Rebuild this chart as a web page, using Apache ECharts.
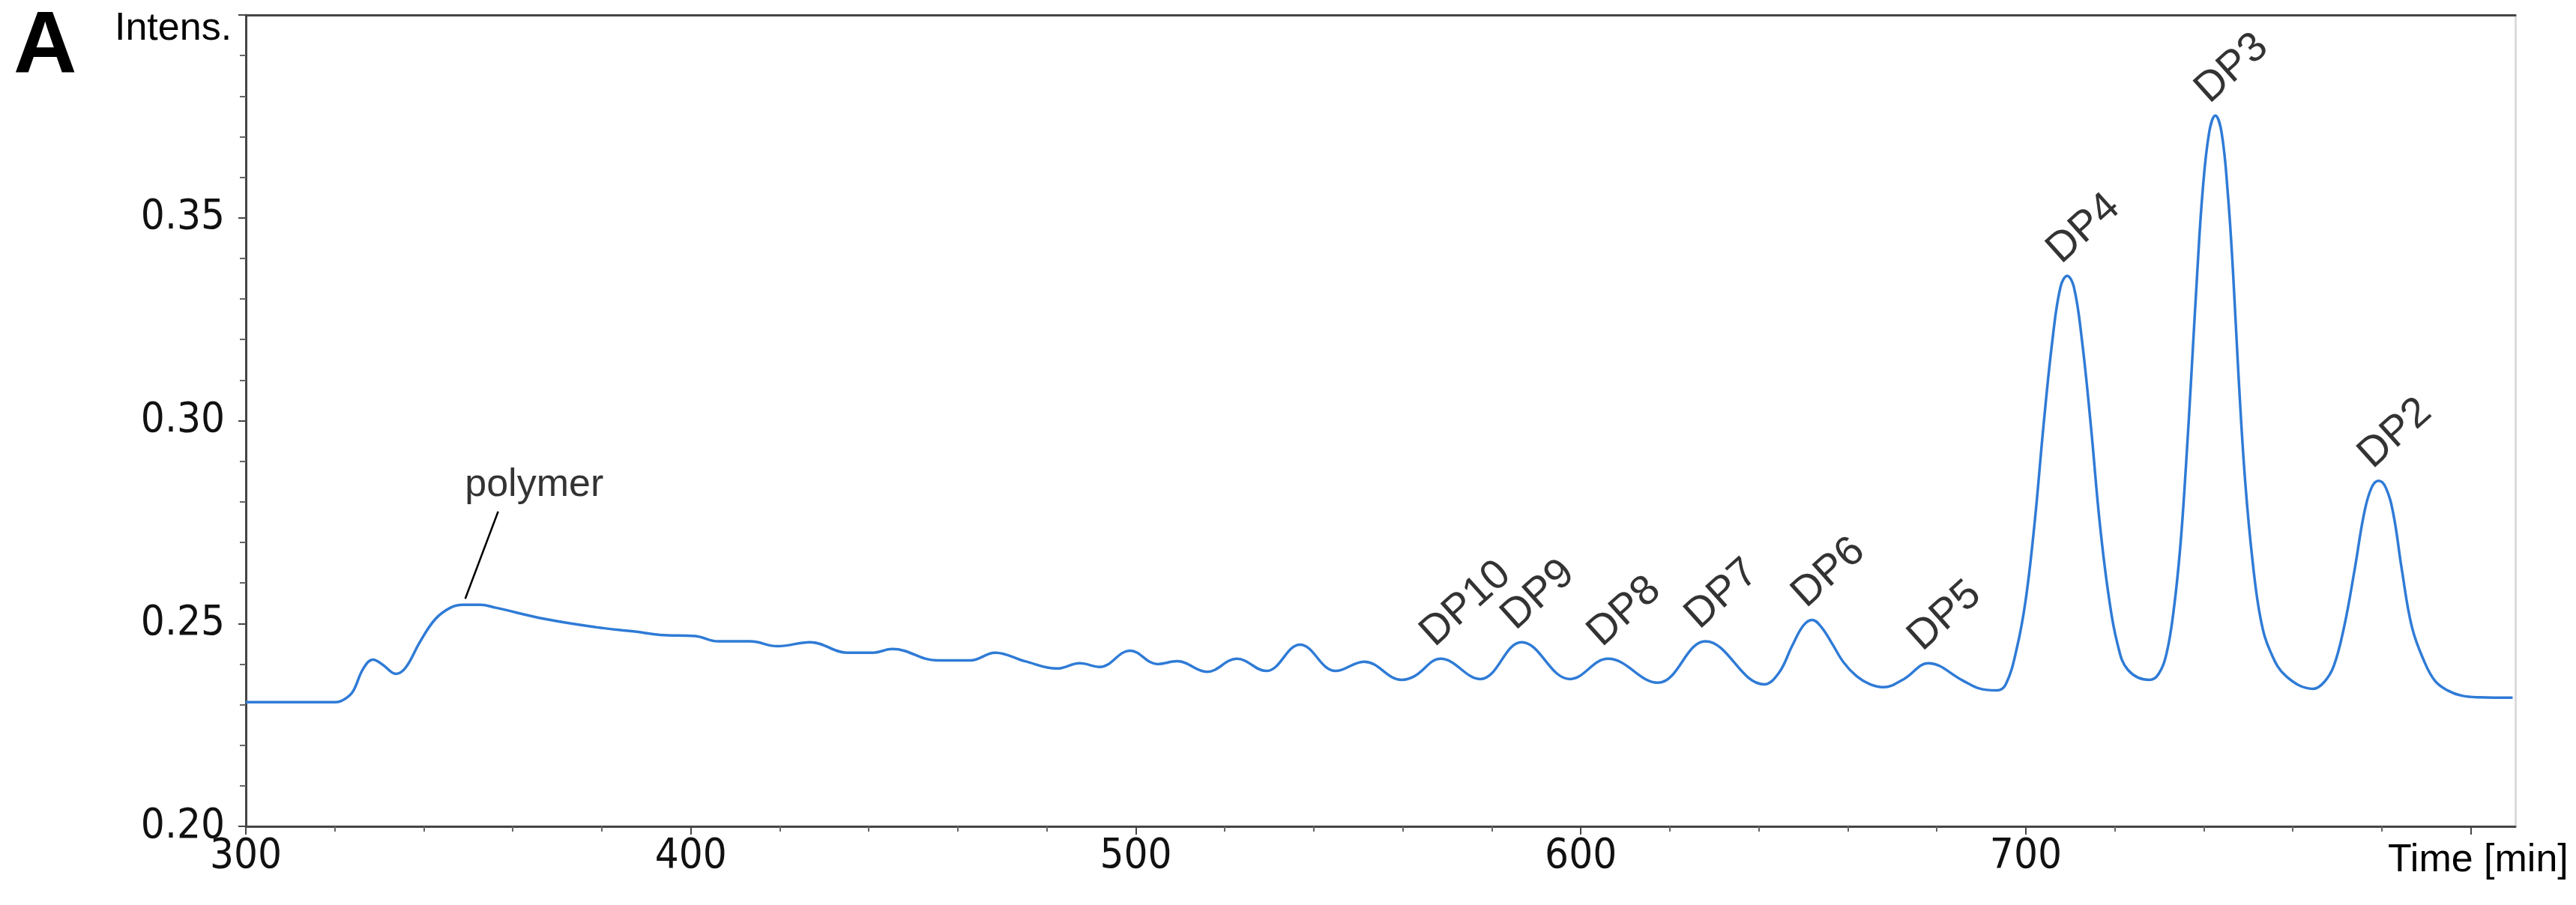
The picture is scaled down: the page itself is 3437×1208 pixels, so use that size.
<!DOCTYPE html>
<html><head><meta charset="utf-8">
<script src="https://cdn.jsdelivr.net/npm/echarts@6/dist/echarts.min.js"></script>
<style>html,body{margin:0;padding:0;background:#fff}#c{width:3437px;height:1208px}</style>
</head><body><div id="c"></div><script>
// Chromatogram trace (time in min, intensity)
const timeMin = [300.0,320.2,322.4,324.1,326.4,328.6,330.8,333.7,335.9,339.2,342.6,346.0,348.8,352.7,356.1,367.3,378.6,387.5,
393.1,401.0,406.1,413.3,419.5,426.8,435.2,440.9,445.3,455.4,462.8,468.4,475.1,482.3,487.4,491.9,498.7,504.9,509.3,516.0,522.7,529.3,536.9,544.9,551.3,559.8,562.6,
568.5,577.4,586.7,597.6,606.1,617.3,628.0,641.2,644.5,647.5,650.0,652.0,654.0,656.5,659.0,662.0,665.0,668.0,672.6,678.1,685.9,689.5,693.4,
695.5,698.0,700.0,702.0,704.0,706.0,707.8,709.3,710.8,712.6,714.6,716.6,718.6,720.6,723.0,727.8,
729.8,731.6,733.2,734.7,736.0,737.2,738.5,739.7,741.2,742.6,744.0,745.4,746.6,747.8,749.3,751.0,752.8,755.0,758.5,764.6,
767.0,769.2,771.5,773.9,776.0,777.7,779.3,780.9,782.6,784.5,786.8,789.6,792.0,794.8,798.0,801.9,809.4];
const intensity = [0.2306,0.2306,0.2315,0.2333,0.2389,0.2411,0.2398,0.2376,0.2391,0.2456,0.2511,0.2539,0.2546,0.2546,0.2539,0.2511,0.2491,0.2480,
0.2472,0.2469,0.2456,0.2456,0.2444,0.2454,0.2428,0.2428,0.2437,0.2409,0.2409,0.2428,0.2407,0.2389,0.2402,0.2393,0.2433,0.2400,0.2407,0.2381,0.2413,0.2383,0.2448,0.2383,0.2406,0.2361,0.2370,
0.2413,0.2363,0.2454,0.2363,0.2413,0.2354,0.2456,0.2350,0.2378,0.2445,0.2495,0.2509,0.2492,0.2450,0.2405,0.2370,0.2350,0.2343,0.2363,0.2402,0.2359,0.2340,0.2335,
0.2350,0.2440,0.2560,0.2750,0.2990,0.3200,0.3330,0.3357,0.3330,0.3200,0.2990,0.2750,0.2570,0.2450,0.2385,0.2361,
0.2375,0.2425,0.2530,0.2687,0.2890,0.3111,0.3360,0.3560,0.3710,0.3752,0.3710,0.3560,0.3360,0.3111,0.2850,0.2650,0.2510,0.2430,0.2370,0.2339,
0.2355,0.2395,0.2490,0.2633,0.2770,0.2835,0.2852,0.2835,0.2770,0.2633,0.2490,0.2405,0.2358,0.2335,0.2322,0.2318,0.2317];

// Peak annotations
const peakNames = ['DP10','DP9','DP8','DP7','DP6','DP5','DP4','DP3','DP2'];
const peakTimes = [568.5,586.7,606.1,628.0,652.0,678.1,709.3,742.6,779.3];
const peakValues = [0.2413,0.2454,0.2413,0.2456,0.2509,0.2402,0.3357,0.3752,0.2852];

const polymerText = 'polymer';
const polymerTextPos = [364.8, 0.2841];
const polymerLeader = [[349.3, 0.2561], [356.7, 0.2776]];

// Axis ticks
const xMajorTicks = [300,400,500,600,700,800];
const xLabelTicks = [300,400,500,600,700];
const xMinorTicks = [320,340,360,380,420,440,460,480,520,540,560,580,620,640,660,680,720,740,760,780];
const xRange = [300, 810];
const yRange = [0.20, 0.40];
const yStep = 0.05;
const xTitle = 'Time [min]';
const yTitle = 'Intens.';
const panelTag = 'A';

const chart = echarts.init(document.getElementById('c'), null, {renderer:'canvas'});
const trace = timeMin.map((t,i)=>[t,intensity[i]]);
const peaks = peakTimes.map((t,i)=>[t,peakValues[i],peakNames[i]]);
const AX = '#454545';
const tickFont = {fontFamily:'"DejaVu Sans Condensed","DejaVu Sans",sans-serif', fontSize:56, color:'#111'};
const arial = '"Liberation Sans", Arial, sans-serif';

chart.setOption({
  animation:false,
  backgroundColor:'#ffffff',
  grid:{left:328, right:81, top:20, bottom:105},
  xAxis:[
    {type:'value', min:xRange[0], max:xRange[1], position:'bottom',
     axisLine:{show:true, onZero:false, lineStyle:{color:AX, width:3}},
     axisTick:{show:true, customValues:xMajorTicks, length:11, lineStyle:{color:AX, width:2}},
     axisLabel:{show:true, customValues:xLabelTicks, margin:12, ...tickFont},
     splitLine:{show:false}, minorTick:{show:false}},
    {type:'value', min:xRange[0], max:xRange[1], position:'bottom',
     axisLine:{show:false},
     axisTick:{show:true, customValues:xMinorTicks, length:7, lineStyle:{color:'#666', width:2}},
     axisLabel:{show:false}, splitLine:{show:false}},
    {type:'value', min:xRange[0], max:xRange[1], position:'top',
     axisLine:{show:true, onZero:false, lineStyle:{color:AX, width:3}},
     axisTick:{show:false}, axisLabel:{show:false}, splitLine:{show:false}}
  ],
  yAxis:[
    {type:'value', min:yRange[0], max:yRange[1], interval:yStep, position:'left',
     axisLine:{show:true, onZero:false, lineStyle:{color:AX, width:3}},
     axisTick:{show:true, length:10, lineStyle:{color:AX, width:2}},
     minorTick:{show:true, splitNumber:5, length:8, lineStyle:{color:'#666', width:2}},
     axisLabel:{margin:28, ...tickFont, formatter:v=> v>0.399 ? '' : v.toFixed(2)},
     splitLine:{show:false}},
    {type:'value', min:yRange[0], max:yRange[1], position:'right',
     axisLine:{show:true, onZero:false, lineStyle:{color:'#dcdcdc', width:3}},
     axisTick:{show:false}, axisLabel:{show:false}, splitLine:{show:false}}
  ],
  series:[
    {type:'line', name:'trace', data:trace, xAxisIndex:0, yAxisIndex:0,
     showSymbol:false, smooth:0.4, clip:true,
     lineStyle:{color:'#2f7bd6', width:3.5},
     markLine:{silent:true, symbol:['none','none'], label:{show:false},
       lineStyle:{color:'#000', width:2.5, type:'solid'},
       data:[[{coord:polymerLeader[0]},{coord:polymerLeader[1]}]]}},
    {type:'scatter', name:'peaks', data:peaks, symbolSize:1, itemStyle:{color:'rgba(0,0,0,0)'}, clip:false,
     label:{show:true, position:'inside', align:'left', verticalAlign:'bottom', rotate:42, offset:[4,-4],
       formatter:p=>p.value[2], fontFamily:arial, fontSize:56, color:'#000'}},
    {type:'scatter', name:'polymer', data:[[polymerTextPos[0],polymerTextPos[1],polymerText]], symbolSize:1,
     itemStyle:{color:'rgba(0,0,0,0)'}, clip:false,
     label:{show:true, position:'inside', align:'center', verticalAlign:'middle',
       formatter:p=>p.value[2], fontFamily:arial, fontSize:52, color:'#000'}}
  ],
  graphic:[
    {type:'text', left:18, top:6, style:{text:panelTag, font:'bold 117px "Liberation Sans", Arial, sans-serif', fill:'#000'}},
    {type:'text', left:153, top:13, style:{text:yTitle, font:'52px "Liberation Sans", Arial, sans-serif', fill:'#000'}},
    {type:'text', left:3186, top:1123, style:{text:xTitle, font:'52px "Liberation Sans", Arial, sans-serif', fill:'#000'}}
  ]
});
</script></body></html>
